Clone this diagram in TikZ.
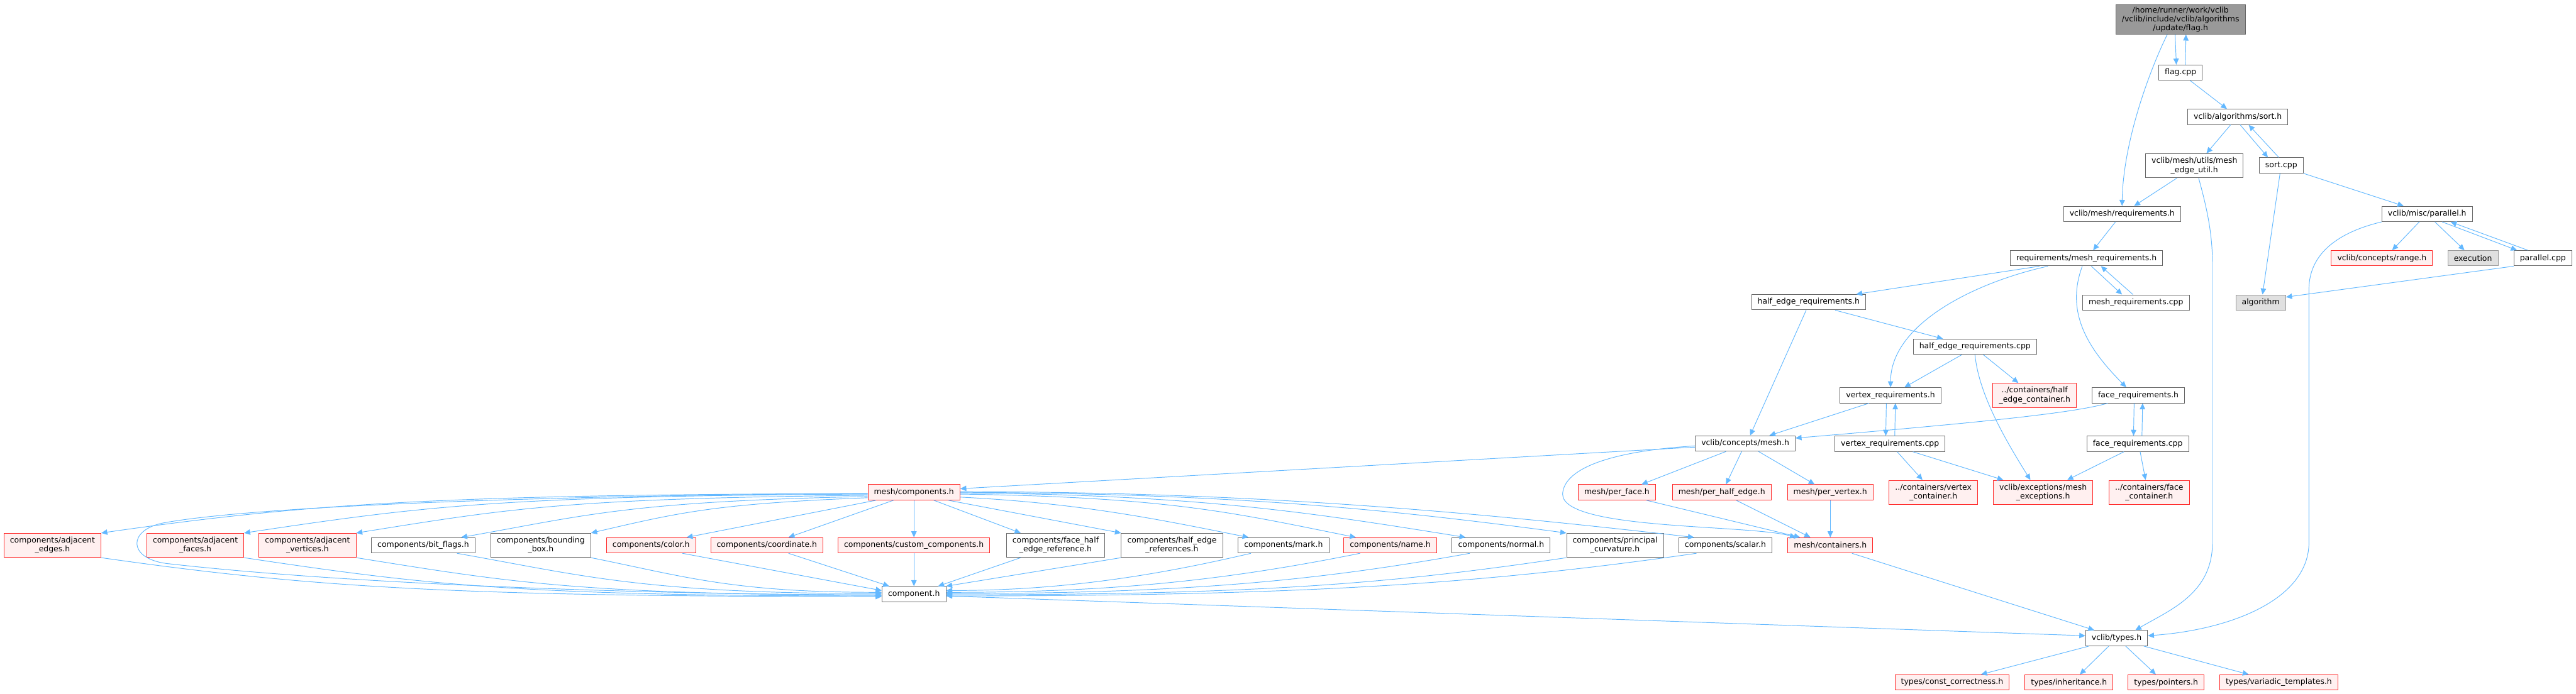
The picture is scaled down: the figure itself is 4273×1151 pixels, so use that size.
\documentclass[tikz,border=0pt]{standalone}
\usepackage{fontspec}
\setmainfont{DejaVu Sans}
\usetikzlibrary{arrows.meta}
\definecolor{EdgeBlue}{HTML}{63B8FF}
\definecolor{NodeLine}{HTML}{666666}
\definecolor{RedFill}{HTML}{FFF0F0}
\definecolor{RootFill}{HTML}{999999}
\definecolor{ExtFill}{HTML}{E0E0E0}
\definecolor{ExtLine}{HTML}{999999}

\begin{document}
\begin{tikzpicture}[
        x=1pt, y=1pt,
        box/.style={
            rectangle,
            draw=NodeLine,
            fill=white,
            line width=1pt,
            align=center,
            inner xsep=10pt,
            inner ysep=3pt,
            minimum height=25.5pt,
            font=\fontsize{13}{15}\selectfont
        },
        tall/.style={minimum height=40pt},
        redbox/.style={box, draw=red!85!white, fill=RedFill},
        extbox/.style={box, draw=ExtLine, fill=ExtFill},
        rootbox/.style={box, fill=RootFill},
        incl/.style={-{Triangle[length=10pt,width=9pt]}, EdgeBlue, line width=1pt}
    ]
    \useasboundingbox (0,0) rectangle (4273,-1151);

    % upper part
    \node[rootbox] (flagh) at (3617,-32.5) {/home/runner/work/vclib\\/vclib/include/vclib/algorithms\\/update/flag.h};
    \node[box] (flagcpp) at (3617,-120.5) {flag.cpp};
    \node[box] (sorth) at (3712,-194) {vclib/algorithms/sort.h};
    \node[box, tall] (meu) at (3640,-275) {vclib/mesh/utils/mesh\\\_edge\_util.h};
    \node[box] (sortcpp) at (3784,-274.5) {sort.cpp};
    \node[box] (reqh) at (3520,-355) {vclib/mesh/requirements.h};
    \node[box] (parh) at (4026,-355) {vclib/misc/parallel.h};
    \node[box] (meshreqh) at (3461,-428.5) {requirements/mesh\_requirements.h};
    \node[redbox] (rangeh) at (3951,-428.5) {vclib/concepts/range.h};
    \node[extbox] (execn) at (4102,-428.5) {execution};
    \node[box] (parcpp) at (4218,-428.5) {parallel.cpp};
    \node[box] (meshreqcpp) at (3543,-502) {mesh\_requirements.cpp};
    \node[extbox] (algo) at (3750,-502) {algorithm};

    % requirements
    \node[box] (heh) at (3000,-501.5) {half\_edge\_requirements.h};
    \node[box] (hecpp) at (3276,-575.5) {half\_edge\_requirements.cpp};
    \node[redbox, tall] (hecont) at (3375,-656) {../containers/half\\\_edge\_container.h};
    \node[box] (vreqh) at (3136,-656) {vertex\_requirements.h};
    \node[box] (freqh) at (3547,-656) {face\_requirements.h};
    \node[box] (vreqcpp) at (3135,-736.5) {vertex\_requirements.cpp};
    \node[box] (freqcpp) at (3546,-736.5) {face\_requirements.cpp};
    \node[box] (cmesh) at (2895,-736) {vclib/concepts/mesh.h};

    % per element / containers
    \node[redbox] (perface) at (2682,-817) {mesh/per\_face.h};
    \node[redbox] (perhe) at (2856,-817) {mesh/per\_half\_edge.h};
    \node[redbox] (perv) at (3036,-817) {mesh/per\_vertex.h};
    \node[redbox, tall] (vcont) at (3207,-817) {../containers/vertex\\\_container.h};
    \node[redbox, tall] (mexc) at (3389,-817) {vclib/exceptions/mesh\\\_exceptions.h};
    \node[redbox, tall] (fcont) at (3565,-817) {../containers/face\\\_container.h};
    \node[redbox] (comps) at (1516,-817) {mesh/components.h};

    % components row
    \node[redbox, tall] (adjE) at (87,-905) {components/adjacent\\\_edges.h};
    \node[redbox, tall] (adjF) at (324,-905) {components/adjacent\\\_faces.h};
    \node[redbox, tall] (adjV) at (510,-905) {components/adjacent\\\_vertices.h};
    \node[box] (bitf) at (702,-905) {components/bit\_flags.h};
    \node[box, tall] (bbox) at (897,-905) {components/bounding\\\_box.h};
    \node[redbox] (color) at (1080,-905) {components/color.h};
    \node[redbox] (coord) at (1272,-905) {components/coordinate.h};
    \node[redbox] (custom) at (1516,-905) {components/custom\_components.h};
    \node[box, tall] (fher) at (1751,-905) {components/face\_half\\\_edge\_reference.h};
    \node[box, tall] (her) at (1944,-905) {components/half\_edge\\\_references.h};
    \node[box] (mark) at (2129,-905) {components/mark.h};
    \node[redbox] (name) at (2306,-905) {components/name.h};
    \node[box] (normal) at (2490,-905) {components/normal.h};
    \node[box, tall] (pcurv) at (2679,-905) {components/principal\\\_curvature.h};
    \node[box] (scalar) at (2862,-905) {components/scalar.h};
    \node[redbox] (mcont) at (3036,-905) {mesh/containers.h};

    % bottom
    \node[box] (comp) at (1516,-986) {component.h};
    \node[box] (types) at (3511,-1059) {vclib/types.h};
    \node[redbox] (tconst) at (3238,-1132.5) {types/const\_correctness.h};
    \node[redbox] (tinh) at (3432,-1132.5) {types/inheritance.h};
    \node[redbox] (tptr) at (3593,-1132.5) {types/pointers.h};
    \node[redbox] (tvar) at (3780,-1132.5) {types/variadic\_templates.h};

    % top edges
    \draw[incl] ([xshift=-9pt]flagh.south) -- ([xshift=-7pt]flagcpp.north);
    \draw[incl] ([xshift=8pt]flagcpp.north) -- ([xshift=9pt]flagh.south);
    \draw[incl] ([xshift=-22pt]flagh.south) .. controls +(-25,-50) and +(2,112) .. (reqh.north);
    \draw[incl] ([xshift=16pt]flagcpp.south) -- ([xshift=-18pt]sorth.north);
    \draw[incl] ([xshift=-12pt]sorth.south) -- ([xshift=20pt]meu.north);
    \draw[incl] ([xshift=4pt]sorth.south) -- ([xshift=-22pt]sortcpp.north);
    \draw[incl] ([xshift=-4pt]sortcpp.north) -- ([xshift=18pt]sorth.south);
    \draw[incl] ([xshift=-29pt]meu.south) -- ([xshift=20pt]reqh.north);
    \draw[incl] ([xshift=7pt]meu.south) .. controls (3662,-350) and (3670,-390) .. (3670,-440)
        -- (3670,-900) .. controls (3670,-985) and (3600,-1012) .. ([xshift=31pt]types.north);
    \draw[incl] ([xshift=-2pt]sortcpp.south) -- ([xshift=3pt]algo.north);
    \draw[incl] (sortcpp.south east) -- ([xshift=-39pt]parh.north);
    \draw[incl] ([xshift=-11pt]reqh.south) -- ([xshift=11pt]meshreqh.north);
    \draw[incl] (parh.south west) .. controls (3880,-385) and (3830,-420) .. (3830,-480)
        -- (3830,-900) .. controls (3830,-995) and (3700,-1045) .. ([yshift=4pt]types.east);
    \draw[incl] ([xshift=-13pt]parh.south) -- ([xshift=17pt]rangeh.north);
    \draw[incl] ([xshift=13pt]parh.south) -- ([xshift=-14pt]execn.north);
    \draw[incl] ([xshift=25pt]parh.south) -- ([xshift=-43pt]parcpp.north);
    \draw[incl] ([xshift=-25pt]parcpp.north) -- ([xshift=39pt]parh.south);
    \draw[incl] (parcpp.south west) -- ([yshift=9pt]algo.east);

    % requirements edges
    \draw[incl] ([xshift=-78pt]meshreqh.south) -- ([xshift=79pt]heh.north);
    \draw[incl] ([xshift=-64pt]meshreqh.south) .. controls (3270,-470) and (3136,-540) .. (vreqh.north);
    \draw[incl] ([xshift=8pt]meshreqh.south) -- ([xshift=-23pt]meshreqcpp.north);
    \draw[incl] ([xshift=-5pt]meshreqcpp.north) -- ([xshift=24pt]meshreqh.south);
    \draw[incl] ([xshift=-7pt]meshreqh.south) .. controls (3425,-520) and (3465,-580) .. ([xshift=-20pt]freqh.north);
    \draw[incl] ([xshift=44pt]heh.south) -- ([xshift=-53pt]hecpp.north);
    \draw[incl] ([xshift=-4pt]heh.south) -- ([xshift=8pt]cmesh.north);
    \draw[incl] ([xshift=-22pt]hecpp.south) -- ([xshift=23pt]vreqh.north);
    \draw[incl] ([xshift=14pt]hecpp.south) -- ([xshift=-27pt]hecont.north);
    \draw[incl] (hecpp.south) .. controls (3282,-650) and (3320,-720) .. ([xshift=-21pt]mexc.north);
    \draw[incl] ([xshift=-36pt]vreqh.south) -- ([xshift=40pt]cmesh.north);
    \draw[incl] ([xshift=-7pt]vreqh.south) -- ([xshift=-7pt]vreqcpp.north);
    \draw[incl] ([xshift=8pt]vreqcpp.north) -- ([xshift=8pt]vreqh.south);
    \draw[incl] ([xshift=-51pt]freqh.south) .. controls (3440,-685) and (3300,-700) .. ([yshift=9pt]cmesh.east);
    \draw[incl] ([xshift=-7pt]freqh.south) -- ([xshift=-7pt]freqcpp.north);
    \draw[incl] ([xshift=7pt]freqcpp.north) -- ([xshift=7pt]freqh.south);
    \draw[incl] ([xshift=-23pt]freqcpp.south) -- ([xshift=40pt]mexc.north);
    \draw[incl] ([xshift=4pt]freqcpp.south) -- ([xshift=-6pt]fcont.north);
    \draw[incl] ([xshift=12pt]vreqcpp.south) -- ([xshift=-18pt]vcont.north);
    \draw[incl] ([xshift=38pt]vreqcpp.south) -- ([xshift=-66pt]mexc.north);

    % mesh concept edges
    \draw[incl] ([yshift=-6pt]cmesh.west) -- ([yshift=6pt]comps.east);
    \draw[incl] ([xshift=-32pt]cmesh.south) -- ([xshift=41pt]perface.north);
    \draw[incl] ([xshift=-6pt]cmesh.south) -- ([xshift=7pt]perhe.north);
    \draw[incl] ([xshift=22pt]cmesh.south) -- ([xshift=-26pt]perv.north);
    \draw[incl] ([yshift=-4pt]cmesh.west) .. controls (2680,-748) and (2594,-775) .. (2592,-820)
        .. controls (2592,-880) and (2900,-870) .. ([xshift=-57pt]mcont.north);
    \draw[incl] ([xshift=49pt]perface.south) -- ([xshift=-50pt]mcont.north);
    \draw[incl] ([xshift=24pt]perhe.south) -- ([xshift=-33pt]mcont.north);
    \draw[incl] (perv.south) -- (mcont.north);
    \draw[incl] ([xshift=36pt]mcont.south) -- ([xshift=-37pt]types.north);

    % mesh/components.h fan out
    \draw[incl] ([yshift=-2pt]comps.west) .. controls +(-700,-2) and +(350,50) .. (adjE.north east);
    \draw[incl] ([yshift=-3pt]comps.west) .. controls +(-600,-3) and +(300,45) .. (adjF.north east);
    \draw[incl] ([yshift=-5pt]comps.west) .. controls +(-500,-5) and +(250,40) .. (adjV.north east);
    \draw[incl] ([yshift=-7pt]comps.west) .. controls +(-400,-8) and +(200,35) .. ([xshift=63pt]bitf.north);
    \draw[incl] ([yshift=-9pt]comps.west) .. controls +(-250,-10) and +(150,35) .. (bbox.north east);
    \draw[incl] ([xshift=-63pt]comps.south) -- ([xshift=59pt]color.north);
    \draw[incl] ([xshift=-34pt]comps.south) -- ([xshift=36pt]coord.north);
    \draw[incl] (comps.south) -- (custom.north);
    \draw[incl] ([xshift=33pt]comps.south) -- ([xshift=-58pt]fher.north);
    \draw[incl] ([xshift=57pt]comps.south) -- (her.north west);
    \draw[incl] ([yshift=-8pt]comps.east) .. controls +(200,-10) and +(-150,30) .. ([xshift=-58pt]mark.north);
    \draw[incl] ([yshift=-3pt]comps.east) .. controls +(350,-5) and +(-200,40) .. ([xshift=-57pt]name.north);
    \draw[incl] ([yshift=-1pt]comps.east) .. controls +(400,-3) and +(-250,40) .. ([xshift=-59pt]normal.north);
    \draw[incl] (comps.east) .. controls +(450,-2) and +(-300,40) .. (pcurv.north west);
    \draw[incl] ([yshift=1pt]comps.east) .. controls +(500,0) and +(-350,40) .. ([xshift=-52pt]scalar.north);
    \draw[incl] ([yshift=-2pt]comps.west) .. controls (900,-822) and (420,-840) .. (270,-868)
        .. controls (212,-880) and (212,-926) .. (275,-935)
        .. controls (600,-972) and (1100,-986) .. ([yshift=-2pt]comp.west);

    % into component.h
    \draw[incl] (adjE.south east) .. controls +(350,-50) and +(-700,0) .. ([yshift=-4pt]comp.west);
    \draw[incl] (adjF.south east) .. controls +(300,-45) and +(-600,0) .. ([yshift=-3pt]comp.west);
    \draw[incl] (adjV.south east) .. controls +(250,-40) and +(-500,0) .. ([yshift=-1pt]comp.west);
    \draw[incl] ([xshift=56pt]bitf.south) .. controls +(200,-35) and +(-400,0) .. ([yshift=1pt]comp.west);
    \draw[incl] (bbox.south east) .. controls +(150,-30) and +(-250,0) .. ([yshift=3pt]comp.west);
    \draw[incl] ([xshift=52pt]color.south) -- ([yshift=6pt]comp.west);
    \draw[incl] ([xshift=36pt]coord.south) -- ([xshift=-41pt]comp.north);
    \draw[incl] (custom.south) -- (comp.north);
    \draw[incl] ([xshift=-58pt]fher.south) -- ([xshift=40pt]comp.north);
    \draw[incl] (her.south west) -- (comp.north east);
    \draw[incl] ([xshift=-54pt]mark.south) .. controls +(-150,-35) and +(200,0) .. ([yshift=6pt]comp.east);
    \draw[incl] ([xshift=-50pt]name.south) .. controls +(-200,-40) and +(300,0) .. ([yshift=3pt]comp.east);
    \draw[incl] ([xshift=-52pt]normal.south) .. controls +(-250,-45) and +(400,0) .. ([yshift=1pt]comp.east);
    \draw[incl] (pcurv.south west) .. controls +(-300,-45) and +(500,0) .. ([yshift=-1pt]comp.east);
    \draw[incl] ([xshift=-48pt]scalar.south) .. controls +(-350,-50) and +(600,0) .. ([yshift=-3pt]comp.east);

    % types
    \draw[incl] ([yshift=-3pt]comp.east) -- ([yshift=4pt]types.west);
    \draw[incl] ([xshift=-46pt]types.south) -- ([xshift=48pt]tconst.north);
    \draw[incl] ([xshift=-13pt]types.south) -- ([xshift=18pt]tinh.north);
    \draw[incl] ([xshift=15pt]types.south) -- ([xshift=-17pt]tptr.north);
    \draw[incl] ([xshift=45pt]types.south) -- ([xshift=-50pt]tvar.north);

\end{tikzpicture}
\end{document}
